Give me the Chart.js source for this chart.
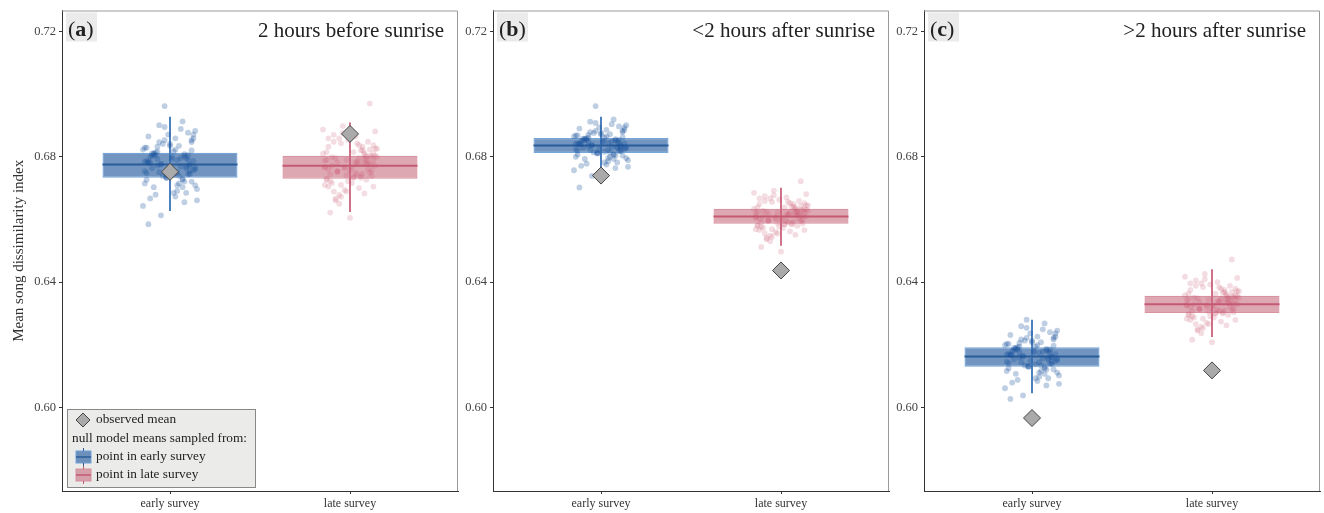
<!DOCTYPE html>
<html>
<head>
<meta charset="utf-8">
<script src="https://cdn.jsdelivr.net/npm/chart.js@4"></script>
<style>
  html, body { margin: 0; padding: 0; background: #fff; overflow: hidden; }
  #wrap { position: relative; width: 1324px; height: 513px; }
  canvas { position: absolute; top: 0; }
</style>
</head>
<body>
<div id="wrap">
  <canvas id="pa" width="460" height="513" style="left:0;width:460px;height:513px"></canvas>
  <canvas id="pb" width="431" height="513" style="left:460px;width:431px;height:513px"></canvas>
  <canvas id="pc" width="433" height="513" style="left:891px;width:433px;height:513px"></canvas>
</div>
<script>
// categories / panels
var categories = ['early survey', 'late survey'];
var panelLetters = ['a', 'b', 'c'];
var panelTitles = ['2 hours before sunrise', '<2 hours after sunrise', '>2 hours after sunrise'];
var yTicks = [0.60, 0.64, 0.68, 0.72];

// boxplot stats per panel (a, b, c)
var q1Early = [0.6733, 0.6812, 0.6130];
var medEarly = [0.6775, 0.6836, 0.6162];
var q3Early = [0.6813, 0.6860, 0.6192];
var loEarly = [0.6628, 0.6766, 0.6046];
var hiEarly = [0.6927, 0.6927, 0.6279];
var obsEarly = [0.6752, 0.6740, 0.5966];

var q1Late = [0.6730, 0.6586, 0.6301];
var medLate = [0.6771, 0.6609, 0.6329];
var q3Late = [0.6803, 0.6634, 0.6356];
var loLate = [0.6625, 0.6517, 0.6226];
var hiLate = [0.6908, 0.6700, 0.6440];
var obsLate = [0.6873, 0.6437, 0.6118];

// horizontal jitter of the null model points
var jitterA = [-0.12, 0.07, -0.03, 0.13, -0.09, 0.02, 0.11, -0.14, 0.05, -0.06, 0.09, -0.11, 0.14, -0.01, 0.04, -0.13, 0.08, -0.07, 0.12, -0.04, 0.01, -0.10, 0.06, 0.15, -0.08, 0.10, -0.15, 0.03, -0.05, 0.13, -0.02, 0.09, -0.12, 0.00, 0.14, -0.09, 0.05, -0.03, 0.11, -0.14, 0.07, -0.06, 0.02, 0.12, -0.11, 0.04, -0.07, 0.10, -0.13, 0.08];
var jitterB = [0.09, -0.13, 0.04, -0.07, 0.14, -0.02, -0.10, 0.06, 0.12, -0.15, 0.01, 0.08, -0.05, -0.12, 0.11, 0.03, -0.08, 0.13, -0.01, 0.07, -0.14, 0.10, -0.04, 0.05, 0.15, -0.11, 0.02, -0.06, 0.12, -0.09, 0.06, -0.13, 0.00, 0.14, -0.03, 0.09, -0.10, 0.11, -0.07, 0.04, -0.12, 0.13, -0.02, 0.08, -0.05, 0.10, -0.14, 0.03, 0.07, -0.08];

// null model means (two batches per cloud)
var nullEarlyA = [0.6781, 0.6727, 0.6853, 0.6757, 0.6811, 0.6685, 0.6775, 0.6829, 0.6739, 0.6901, 0.6769, 0.6799, 0.6709, 0.6871, 0.6751, 0.6787, 0.6655, 0.6817, 0.6721, 0.6841, 0.6793, 0.6763, 0.6889, 0.6697, 0.6805, 0.6745, 0.6823, 0.6673, 0.6778, 0.6859, 0.6733, 0.6796, 0.6585, 0.6835, 0.6766, 0.6808, 0.6715, 0.6962, 0.6754, 0.6784, 0.6703, 0.6847, 0.6742, 0.6820, 0.6667, 0.6790, 0.6772, 0.6877, 0.6748, 0.6802,
    0.6763, 0.6829, 0.6691, 0.6793, 0.6883, 0.6733, 0.6811, 0.6769, 0.6847, 0.6643, 0.6799, 0.6721, 0.6775, 0.6865, 0.6745, 0.6823, 0.6679, 0.6787, 0.6757, 0.6913, 0.6715, 0.6805, 0.6739, 0.6835, 0.6661, 0.6781, 0.6817, 0.6751, 0.6853, 0.6703, 0.6796, 0.6727, 0.6841, 0.6760, 0.6895, 0.6685, 0.6802, 0.6772, 0.6832, 0.6709, 0.6784, 0.6871, 0.6736, 0.6808, 0.6613, 0.6790, 0.6754, 0.6859, 0.6730, 0.6814];
var nullLateA = [0.6777, 0.6727, 0.6843, 0.6755, 0.6804, 0.6689, 0.6771, 0.6821, 0.6738, 0.6887, 0.6766, 0.6793, 0.6710, 0.6859, 0.6749, 0.6782, 0.6661, 0.6810, 0.6722, 0.6832, 0.6788, 0.6760, 0.6876, 0.6700, 0.6799, 0.6744, 0.6815, 0.6678, 0.6774, 0.6848, 0.6733, 0.6790, 0.6605, 0.6826, 0.6763, 0.6801, 0.6716, 0.6970, 0.6752, 0.6779, 0.6705, 0.6837, 0.6741, 0.6812, 0.6672, 0.6785, 0.6768, 0.6865, 0.6746, 0.6796,
    0.6760, 0.6821, 0.6694, 0.6788, 0.6870, 0.6733, 0.6804, 0.6766, 0.6837, 0.6650, 0.6793, 0.6722, 0.6771, 0.6854, 0.6744, 0.6815, 0.6683, 0.6782, 0.6755, 0.6898, 0.6716, 0.6799, 0.6738, 0.6826, 0.6666, 0.6777, 0.6810, 0.6749, 0.6843, 0.6705, 0.6790, 0.6727, 0.6832, 0.6757, 0.6881, 0.6689, 0.6796, 0.6768, 0.6823, 0.6710, 0.6779, 0.6859, 0.6735, 0.6801, 0.6622, 0.6785, 0.6752, 0.6848, 0.6730, 0.6807];
var nullEarlyB = [0.6840, 0.6807, 0.6883, 0.6825, 0.6858, 0.6782, 0.6836, 0.6868, 0.6814, 0.6912, 0.6832, 0.6850, 0.6796, 0.6894, 0.6822, 0.6843, 0.6764, 0.6861, 0.6804, 0.6876, 0.6847, 0.6829, 0.6904, 0.6789, 0.6854, 0.6818, 0.6865, 0.6775, 0.6838, 0.6886, 0.6811, 0.6849, 0.6702, 0.6872, 0.6831, 0.6856, 0.6800, 0.6962, 0.6823, 0.6841, 0.6793, 0.6879, 0.6816, 0.6863, 0.6771, 0.6845, 0.6834, 0.6897, 0.6820, 0.6852,
    0.6829, 0.6868, 0.6786, 0.6847, 0.6901, 0.6811, 0.6858, 0.6832, 0.6879, 0.6757, 0.6850, 0.6804, 0.6836, 0.6890, 0.6818, 0.6865, 0.6778, 0.6843, 0.6825, 0.6919, 0.6800, 0.6854, 0.6814, 0.6872, 0.6768, 0.6840, 0.6861, 0.6822, 0.6883, 0.6793, 0.6849, 0.6807, 0.6876, 0.6827, 0.6908, 0.6782, 0.6852, 0.6834, 0.6870, 0.6796, 0.6841, 0.6894, 0.6813, 0.6856, 0.6739, 0.6845, 0.6823, 0.6886, 0.6809, 0.6859];
var nullLateB = [0.6613, 0.6580, 0.6656, 0.6598, 0.6631, 0.6555, 0.6609, 0.6641, 0.6587, 0.6685, 0.6605, 0.6623, 0.6569, 0.6667, 0.6595, 0.6616, 0.6537, 0.6634, 0.6577, 0.6649, 0.6620, 0.6602, 0.6677, 0.6562, 0.6627, 0.6591, 0.6638, 0.6548, 0.6611, 0.6659, 0.6584, 0.6622, 0.6497, 0.6645, 0.6604, 0.6629, 0.6573, 0.6722, 0.6596, 0.6614, 0.6566, 0.6652, 0.6589, 0.6636, 0.6544, 0.6618, 0.6607, 0.6670, 0.6593, 0.6625,
    0.6602, 0.6641, 0.6559, 0.6620, 0.6674, 0.6584, 0.6631, 0.6605, 0.6652, 0.6530, 0.6623, 0.6577, 0.6609, 0.6663, 0.6591, 0.6638, 0.6551, 0.6616, 0.6598, 0.6692, 0.6573, 0.6627, 0.6587, 0.6645, 0.6541, 0.6613, 0.6634, 0.6595, 0.6656, 0.6566, 0.6622, 0.6580, 0.6649, 0.6600, 0.6681, 0.6555, 0.6625, 0.6607, 0.6643, 0.6569, 0.6614, 0.6667, 0.6586, 0.6629, 0.6512, 0.6618, 0.6596, 0.6659, 0.6582, 0.6632];
var nullEarlyC = [0.6167, 0.6125, 0.6222, 0.6148, 0.6190, 0.6093, 0.6162, 0.6203, 0.6134, 0.6259, 0.6157, 0.6180, 0.6111, 0.6236, 0.6144, 0.6171, 0.6070, 0.6194, 0.6121, 0.6213, 0.6176, 0.6153, 0.6249, 0.6102, 0.6185, 0.6139, 0.6199, 0.6084, 0.6164, 0.6226, 0.6130, 0.6178, 0.6027, 0.6208, 0.6155, 0.6187, 0.6116, 0.6280, 0.6146, 0.6169, 0.6107, 0.6217, 0.6137, 0.6197, 0.6079, 0.6174, 0.6160, 0.6240, 0.6141, 0.6183,
    0.6153, 0.6203, 0.6098, 0.6176, 0.6245, 0.6130, 0.6190, 0.6157, 0.6217, 0.6061, 0.6180, 0.6121, 0.6162, 0.6231, 0.6139, 0.6199, 0.6088, 0.6171, 0.6148, 0.6268, 0.6116, 0.6185, 0.6134, 0.6208, 0.6075, 0.6167, 0.6194, 0.6144, 0.6222, 0.6107, 0.6178, 0.6125, 0.6213, 0.6151, 0.6254, 0.6093, 0.6183, 0.6160, 0.6206, 0.6111, 0.6169, 0.6236, 0.6132, 0.6187, 0.6038, 0.6174, 0.6146, 0.6226, 0.6128, 0.6192];
var nullLateC = [0.6333, 0.6295, 0.6384, 0.6316, 0.6354, 0.6266, 0.6329, 0.6367, 0.6304, 0.6417, 0.6325, 0.6346, 0.6283, 0.6396, 0.6312, 0.6337, 0.6245, 0.6358, 0.6291, 0.6375, 0.6342, 0.6321, 0.6409, 0.6274, 0.6350, 0.6308, 0.6363, 0.6258, 0.6331, 0.6388, 0.6300, 0.6344, 0.6208, 0.6371, 0.6323, 0.6352, 0.6287, 0.6472, 0.6314, 0.6335, 0.6279, 0.6379, 0.6306, 0.6361, 0.6253, 0.6340, 0.6327, 0.6400, 0.6310, 0.6348,
    0.6321, 0.6367, 0.6270, 0.6342, 0.6405, 0.6300, 0.6354, 0.6325, 0.6379, 0.6237, 0.6346, 0.6291, 0.6329, 0.6392, 0.6308, 0.6363, 0.6262, 0.6337, 0.6316, 0.6426, 0.6287, 0.6350, 0.6304, 0.6371, 0.6249, 0.6333, 0.6358, 0.6312, 0.6384, 0.6279, 0.6344, 0.6295, 0.6375, 0.6319, 0.6413, 0.6266, 0.6348, 0.6327, 0.6369, 0.6283, 0.6335, 0.6396, 0.6302, 0.6352, 0.6216, 0.6340, 0.6314, 0.6388, 0.6298, 0.6356];

var nullEarly = [nullEarlyA, nullEarlyB, nullEarlyC];
var nullLate = [nullLateA, nullLateB, nullLateC];
var jitterEarly = jitterA.concat(jitterB);
var jitterLate = jitterB.concat(jitterA);

var SERIF = '"Liberation Serif", "DejaVu Serif", serif';
var BLUE = { fill: 'rgba(58,108,168,0.72)', edge: 'rgba(110,160,215,0.95)', mid: '#2a5c99', pts: 'rgba(22,78,155,0.28)' };
var RED = { fill: 'rgba(200,110,128,0.6)', edge: 'rgba(215,140,155,0.95)', mid: '#c45a72', pts: 'rgba(200,85,110,0.2)' };

Chart.defaults.font.family = SERIF;
Chart.defaults.color = '#444';

function diamond(ctx, x, y, r) {
    ctx.beginPath();
    ctx.moveTo(x, y - r); ctx.lineTo(x + r, y); ctx.lineTo(x, y + r); ctx.lineTo(x - r, y);
    ctx.closePath();
    ctx.fillStyle = '#aaaaaa'; ctx.fill();
    ctx.strokeStyle = '#444'; ctx.lineWidth = 1; ctx.stroke();
}

function boxIcon(ctx, x, y, c) {
    ctx.fillStyle = c.fill; ctx.fillRect(x, y - 6, 15, 12);
    ctx.strokeStyle = c.edge; ctx.lineWidth = 1; ctx.strokeRect(x, y - 6, 15, 12);
    ctx.strokeStyle = c.mid; ctx.lineWidth = 1.5;
    ctx.beginPath(); ctx.moveTo(x, y); ctx.lineTo(x + 15, y); ctx.stroke();
    ctx.lineWidth = 1;
    ctx.beginPath(); ctx.moveTo(x + 7.5, y - 9); ctx.lineTo(x + 7.5, y - 6);
    ctx.moveTo(x + 7.5, y + 6); ctx.lineTo(x + 7.5, y + 9); ctx.stroke();
}

var decor = {
    id: 'decor',
    afterDraw: function (chart, args, opts) {
        var ctx = chart.ctx, a = chart.chartArea;
        ctx.save();
        // top and right frame
        ctx.strokeStyle = '#9a9a9a'; ctx.lineWidth = 1;
        ctx.beginPath();
        ctx.moveTo(a.left, a.top + 0.5); ctx.lineTo(a.right - 0.5, a.top + 0.5); ctx.lineTo(a.right - 0.5, a.bottom);
        ctx.stroke();
        // panel letter
        ctx.fillStyle = '#ebebeb';
        ctx.fillRect(a.left + 4, a.top + 2, 31, 29);
        ctx.fillStyle = '#222'; ctx.textBaseline = 'alphabetic'; ctx.textAlign = 'left';
        var x = a.left + 6, y = a.top + 25;
        ctx.font = '22px ' + SERIF; ctx.fillText('(', x, y); x += ctx.measureText('(').width;
        ctx.font = 'bold 22px ' + SERIF; ctx.fillText(opts.letter, x, y); x += ctx.measureText(opts.letter).width;
        ctx.font = '22px ' + SERIF; ctx.fillText(')', x, y);
        // panel title
        ctx.textAlign = 'right'; ctx.font = '21px ' + SERIF;
        ctx.fillText(opts.title, a.right - 14, a.top + 26);
        if (opts.legend) {
            var lx = a.left + 5, ly = a.bottom - 82;
            ctx.fillStyle = '#ebecea'; ctx.fillRect(lx, ly, 188, 78);
            ctx.strokeStyle = '#888'; ctx.strokeRect(lx + 0.5, ly + 0.5, 188, 78);
            diamond(ctx, lx + 16, ly + 11, 7);
            ctx.fillStyle = '#222'; ctx.textAlign = 'left'; ctx.textBaseline = 'middle';
            ctx.font = '13.3px ' + SERIF;
            ctx.fillText('observed mean', lx + 29, ly + 11);
            ctx.fillText('null model means sampled from:', lx + 5, ly + 30);
            boxIcon(ctx, lx + 9, ly + 48, BLUE);
            boxIcon(ctx, lx + 9, ly + 66, RED);
            ctx.fillStyle = '#222';
            ctx.fillText('point in early survey', lx + 29, ly + 48);
            ctx.fillText('point in late survey', lx + 29, ly + 66);
        }
        ctx.restore();
    }
};

function makePanel(id, p, axisWidth, padRight) {
    var early = nullEarly[p].map(function (v, i) { return { x: 1 + jitterEarly[i], y: v }; });
    var late = nullLate[p].map(function (v, i) { return { x: 2 + jitterLate[i], y: v }; });
    var boxOpts = { type: 'bar', grouped: false, barPercentage: 0.75, categoryPercentage: 1, borderWidth: 1.2, borderSkipped: false, order: 5 };
    var datasets = [
        { type: 'scatter', data: [{ x: 1, y: obsEarly[p] }, { x: 2, y: obsLate[p] }], pointStyle: 'rectRot', pointRadius: 8.5,
          backgroundColor: '#aaaaaa', borderColor: '#444', borderWidth: 1, order: 0 },
        { type: 'scatter', data: early, pointRadius: 2.9, backgroundColor: BLUE.pts, borderWidth: 0, order: 1 },
        { type: 'scatter', data: late, pointRadius: 2.9, backgroundColor: RED.pts, borderWidth: 0, order: 1 },
        { type: 'scatter', data: [{ x: 1, y: medEarly[p] }], pointStyle: 'line', pointRadius: 67.5, borderColor: BLUE.mid, borderWidth: 2, order: 2 },
        { type: 'scatter', data: [{ x: 2, y: medLate[p] }], pointStyle: 'line', pointRadius: 67.5, borderColor: RED.mid, borderWidth: 2, order: 2 },
        { type: 'bar', grouped: false, barThickness: 1.2, data: [{ x: 1, y: [loEarly[p], hiEarly[p]] }], backgroundColor: '#3f78ba', order: 3 },
        { type: 'bar', grouped: false, barThickness: 1.2, data: [{ x: 2, y: [loLate[p], hiLate[p]] }], backgroundColor: '#cc6880', order: 3 },
        Object.assign({ data: [{ x: 1, y: [q1Early[p], q3Early[p]] }], backgroundColor: BLUE.fill, borderColor: BLUE.edge }, boxOpts),
        Object.assign({ data: [{ x: 2, y: [q1Late[p], q3Late[p]] }], backgroundColor: RED.fill, borderColor: RED.edge }, boxOpts)
    ];
    return new Chart(document.getElementById(id), {
        type: 'scatter',
        data: { datasets: datasets },
        options: {
            responsive: false,
            devicePixelRatio: 1,
            animation: false,
            events: [],
            layout: { autoPadding: false, padding: { top: 9, right: padRight, bottom: 0, left: 0 } },
            plugins: {
                legend: { display: false },
                tooltip: { enabled: false },
                decor: { letter: panelLetters[p], title: panelTitles[p], legend: p === 0 }
            },
            scales: {
                x: {
                    type: 'linear', min: 0.4, max: 2.6, offset: false,
                    afterBuildTicks: function (s) { s.ticks = [{ value: 1 }, { value: 2 }]; },
                    afterFit: function (s) { s.height = 22; },
                    ticks: { callback: function (v) { return categories[v - 1]; }, font: { size: 12 }, color: '#333', padding: 3, maxRotation: 0 },
                    grid: { drawOnChartArea: false, offset: false, tickLength: 3, color: '#333' },
                    border: { color: '#333', width: 1 }
                },
                y: {
                    min: 0.5733, max: 0.7267,
                    afterBuildTicks: function (s) { s.ticks = yTicks.map(function (v) { return { value: v }; }); },
                    afterFit: function (s) { s.width = axisWidth; },
                    ticks: { callback: function (v) { return v.toFixed(2); }, font: { size: 12.5 }, color: '#444', padding: 3 },
                    grid: { drawOnChartArea: false, tickLength: 3, color: '#333' },
                    border: { color: '#333', width: 1 },
                    title: { display: p === 0, text: 'Mean song dissimilarity index', font: { size: 15 }, color: '#333', padding: { top: 10, bottom: 0 } }
                }
            }
        },
        plugins: [decor]
    });
}

makePanel('pa', 0, 62, 2);
makePanel('pb', 1, 33, 2);
makePanel('pc', 2, 33, 4);
</script>
</body>
</html>
